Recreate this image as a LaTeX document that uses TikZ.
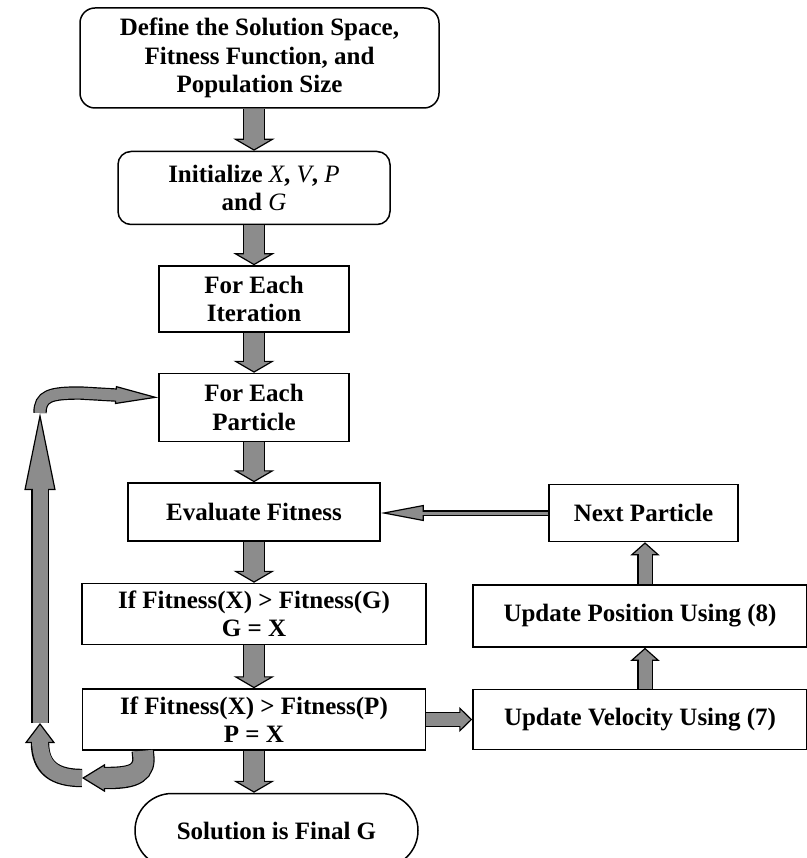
\documentclass[tikz,border=0pt]{standalone}
\usepackage{fontspec}
\setmainfont{Liberation Serif}
\usetikzlibrary{arrows.meta,positioning}
\definecolor{arrowgray}{RGB}{140,140,140}

\begin{document}
\begin{tikzpicture}[
        x=1pt, y=-1pt,
        font=\bfseries\fontsize{25}{28.5}\selectfont,
        box/.style={draw=black, line width=1.5pt, align=center, inner sep=0pt},
        rbox/.style={box, rounded corners=13pt},
        term/.style={box, rounded corners=37pt, minimum width=283pt, minimum height=74pt},
        fat/.style n args={3}{draw=black, line width=#1+2.4pt,
            -{Triangle[width=#2, length=#3, line width=1.2pt, fill=arrowgray]},
            postaction={draw=arrowgray, line width=#1, arrows=-, shorten >=#3-3pt}}
    ]
        \useasboundingbox (0,0) rectangle (806,858);

        % main column
        \node[rbox, rounded corners=15pt, minimum width=359pt, minimum height=100pt] (define) at (259.5,58) {Define the Solution Space,\\Fitness Function, and\\Population Size};
        \node[rbox, minimum width=272pt, minimum height=73pt, below=42pt of define, xshift=-5.5pt] (init) {Initialize {\mdseries\itshape X}, {\mdseries\itshape V}, {\mdseries\itshape P}\\and {\mdseries\itshape G}};
        \node[box, minimum width=190pt, minimum height=66pt, below=40pt of init] (iter) {For Each\\Iteration};
        \node[box, minimum width=190pt, minimum height=68pt, below=40pt of iter] (part) {For Each\\Particle};
        \node[box, minimum width=252pt, minimum height=58pt, below=40pt of part] (eval) {Evaluate Fitness};
        \node[box, minimum width=344pt, minimum height=61pt, below=41pt of eval] (fitg) {If Fitness(X) > Fitness(G)\\G = X};
        \node[box, minimum width=343pt, minimum height=61pt, below=43pt of fitg] (fitp) {If Fitness(X) > Fitness(P)\\P = X};
        \node[term, below=42pt of fitp, xshift=22.5pt] (final) {Solution is Final G};

        % right column
        \node[box, minimum width=334pt, minimum height=60pt, right=46pt of fitp] (vel) {Update Velocity Using (7)};
        \node[box, minimum width=334pt, minimum height=62pt, above=41pt of vel] (pos) {Update Position Using (8)};
        \node[box, minimum width=189pt, minimum height=57pt, above=42pt of pos, xshift=3.5pt] (next) {Next Particle};

        \draw[fat={20pt}{41pt}{12pt}] (define.south -| init) -- (init);
        \draw[fat={20pt}{41pt}{12pt}] (init) -- (iter);
        \draw[fat={20pt}{41pt}{12pt}] (iter) -- (part);
        \draw[fat={20pt}{41pt}{12pt}] (part) -- (eval);
        \draw[fat={20pt}{41pt}{12pt}] (eval) -- (fitg);
        \draw[fat={20pt}{41pt}{12pt}] (fitg) -- (fitp);
        \draw[fat={20pt}{41pt}{12pt}] (fitp.south) -- (fitp.south |- final.north);

        \draw[fat={13pt}{25pt}{13pt}] (fitp) -- (vel);
        \draw[fat={13pt}{29pt}{13pt}] ([xshift=5pt]vel.north) -- ([xshift=5pt]pos.south);
        \draw[fat={13pt}{29pt}{13pt}] ([xshift=5pt]pos.north) -- ([xshift=1.5pt]next.south);
        \draw[fat={3pt}{16pt}{43pt}] (next.west) -- (next.west -| eval.east);

        % loop back to the particles
        \coordinate (hook) at ([xshift=61pt]fitp.south west);
        \coordinate (turn) at (82,778);
        \coordinate (riser) at (40,723);
        \coordinate (top) at (40,413);
        \coordinate (back) at ([yshift=10pt]part.west);
        \draw[fat={20pt}{28pt}{23pt}] (hook) -- (143.5,759) .. controls (143.5,777) and (125,778) .. (turn);
        \draw[fat={16pt}{30pt}{20pt}] (turn) .. controls (55,778) and (40,768) .. (riser);
        \draw[fat={15pt}{31pt}{77pt}] (riser) -- (top);
        \draw[fat={11pt}{18pt}{43pt}] (top) .. controls (40,396) and (50,393) .. (80,393) -- (back);
    \end{tikzpicture}
\end{document}
